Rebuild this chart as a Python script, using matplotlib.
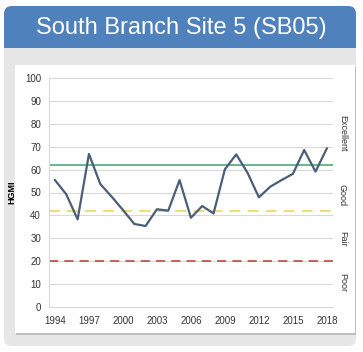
import matplotlib
matplotlib.use("Agg")
import matplotlib.pyplot as plt
from matplotlib.patches import FancyBboxPatch, Rectangle

# Data
years = [1994, 1995, 1996, 1997, 1998, 1999, 2000, 2001, 2002, 2003, 2004, 2005, 2006,
         2007, 2008, 2009, 2010, 2011, 2012, 2013, 2014, 2015, 2016, 2017, 2018]
hgmi = [55.4, 49.2, 38.3, 66.8, 53.7, 48.2, 42.4, 36.3, 35.4, 42.7, 42.1, 55.4, 39.0,
        44.1, 40.9, 60.1, 66.6, 58.6, 47.9, 52.5, 55.4, 58.1, 68.5, 59.1, 69.2]
xticks = [1994, 1997, 2000, 2003, 2006, 2009, 2012, 2015, 2018]
thresholds = {"excellent": 62, "good": 42, "fair": 20}
class_labels = ["Excellent", "Good", "Fair", "Poor"]
class_pos = [76, 49, 30, 10.6]

W, H = 363, 352
fig = plt.figure(figsize=(W / 100, H / 100), dpi=100)
fig.patch.set_facecolor("white")

def px(x0, y0, x1, y1):
    # pixel box (top-left origin) -> figure fraction
    return x0 / W, 1 - y1 / H, (x1 - x0) / W, (y1 - y0) / H

# background panels
bg = fig.add_axes([0, 0, 1, 1])
bg.set_xlim(0, W)
bg.set_ylim(H, 0)
bg.axis("off")
bg.add_patch(FancyBboxPatch((4, 6), 352, 340, boxstyle="round,pad=0,rounding_size=8",
                            fc="#e6e6e6", ec="none"))
bg.add_patch(FancyBboxPatch((4, 6), 352, 42, boxstyle="round,pad=0,rounding_size=8",
                            fc="#4f81bd", ec="none"))
bg.add_patch(Rectangle((4, 30), 352, 18, fc="#4f81bd", ec="none"))
bg.add_patch(Rectangle((16, 67), 340, 268, fc="#bdbdbd", ec="none"))
bg.add_patch(Rectangle((15, 65), 340, 268, fc="white", ec="none"))
bg.text(181, 28, "South Branch Site 5 (SB05)", color="white", fontsize=17,
        family="Liberation Sans", ha="center", va="center")

ax = fig.add_axes(px(49.3, 77.7, 332.5, 307.3))
ax.set_facecolor("white")
ax.plot(years, hgmi, color="#4b5e78", lw=1.6, zorder=3)
ax.axhline(thresholds["excellent"], color="#3aa56e", lw=1.1, zorder=2)
ax.axhline(thresholds["good"], color="#f5d76e", lw=1.3, ls=(0, (6, 4)), zorder=2)
ax.axhline(thresholds["fair"], color="#c0392b", lw=1.1, ls=(0, (6, 4)), zorder=2)

ax.set_xlim(1993.5, 2018.5)
ax.set_ylim(0, 100)
ax.set_yticks(range(0, 101, 10))
ax.set_xticks(xticks)
ax.grid(axis="y", color="#d9d9d9", lw=0.8, zorder=0)
for s in ["top", "right"]:
    ax.spines[s].set_visible(False)
ax.spines["left"].set_color("#d9d9d9")
ax.spines["bottom"].set_color("#d9d9d9")
ax.tick_params(length=0, labelsize=7, colors="#333333", pad=6)
for lab in ax.get_xticklabels() + ax.get_yticklabels():
    lab.set_family("Liberation Sans")
ax.set_ylabel("HGMI", fontsize=6.5, fontweight="bold", family="Liberation Sans", labelpad=6)

for lab, yv in zip(class_labels, class_pos):
    ax.text(1.035, yv, lab, transform=ax.get_yaxis_transform(), rotation=-90,
            fontsize=6.5, family="Liberation Sans", color="#333333", ha="center", va="center")

fig.savefig("out.png", dpi=100)
